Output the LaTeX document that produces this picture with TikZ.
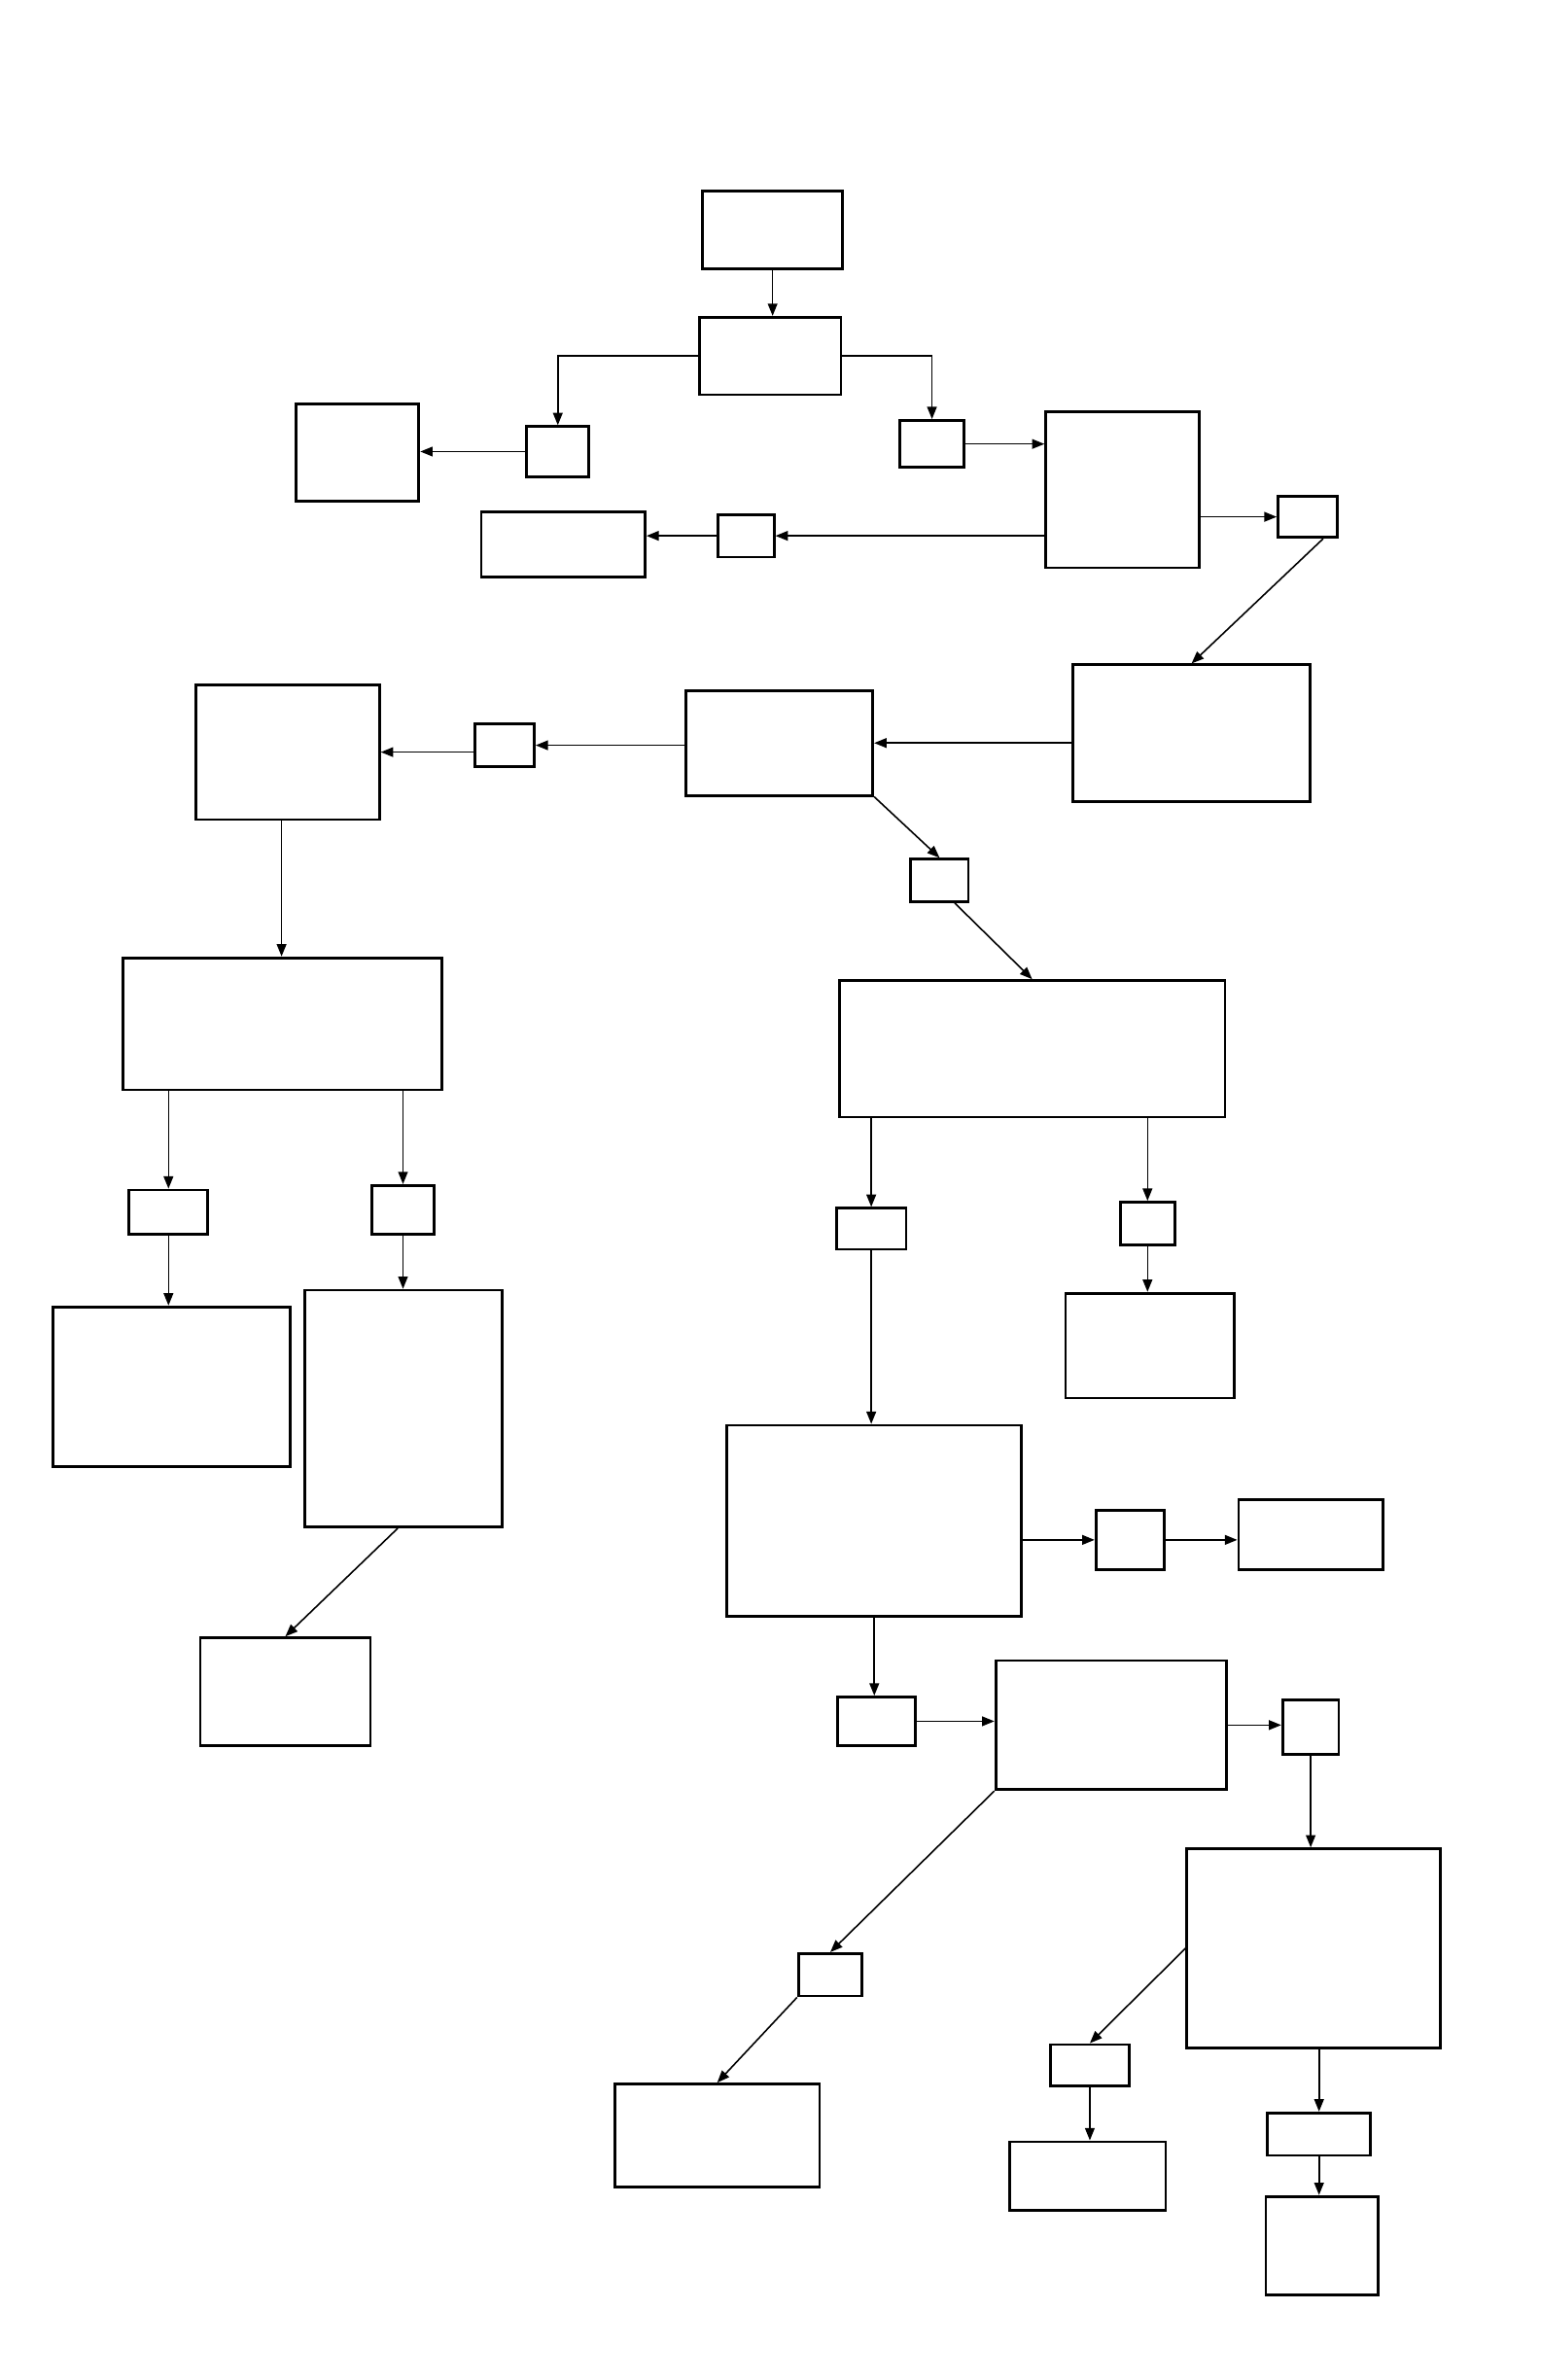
\documentclass[tikz,border=0pt]{standalone}
\usetikzlibrary{fit,arrows.meta,calc}
\begin{document}
\begin{tikzpicture}[x=0.015606cm,y=-0.015606cm,
  box/.style={draw,line width=0.8pt,inner sep=0pt,fill=white},
  conn/.style={line width=0.45pt,-{Triangle[length=3.6pt,width=2.8pt]}}]
\useasboundingbox (0,0) rectangle (1015,1568);
\newcommand\bx[5]{\node[box,fit={(#2,#3) (#4,#5)}] (#1) {};}
\bx{A}{463}{126}{555}{177}
\bx{B}{461}{209}{554}{260}
\bx{C}{347}{281}{388}{314}
\bx{D}{195}{266}{276}{330}
\bx{E}{593}{277}{635}{308}
\bx{F}{689}{271}{790}{374}
\bx{G}{842}{327}{881}{354}
\bx{H}{473}{339}{510}{367}
\bx{I}{317}{337}{425}{380}
\bx{J}{707}{438}{863}{528}
\bx{K}{452}{455}{575}{524}
\bx{L}{313}{477}{352}{505}
\bx{M}{129}{451}{250}{540}
\bx{N}{600}{566}{638}{594}
\bx{O}{553}{646}{807}{736}
\bx{P}{81}{631}{291}{718}
\bx{Q}{85}{784}{137}{813}
\bx{R}{245}{781}{286}{813}
\bx{S}{35}{861}{191}{966}
\bx{T}{201}{850}{331}{1006}
\bx{U}{551}{796}{597}{823}
\bx{V}{738}{792}{774}{820}
\bx{W}{702}{852}{813}{921}
\bx{X}{479}{939}{673}{1065}
\bx{Y}{722}{995}{767}{1034}
\bx{Z}{816}{988}{911}{1034}
\bx{AA}{132}{1079}{244}{1150}
\bx{AB}{552}{1118}{603}{1150}
\bx{AC}{656}{1094}{808}{1179}
\bx{AD}{845}{1120}{882}{1156}
\bx{AE}{782}{1218}{949}{1349}
\bx{AF}{526}{1287}{568}{1315}
\bx{AG}{405}{1373}{540}{1441}
\bx{AH}{692}{1347}{744}{1374}
\bx{AI}{665}{1411}{768}{1456}
\bx{AJ}{835}{1392}{903}{1420}
\bx{AK}{834}{1447}{908}{1512}
% connectors
\draw[conn] (A.south) -- (A.south |- B.north);
\draw[conn] (B.west) -| (C.north);
\draw[conn] (B.east) -| (E.north);
\draw[conn] (C.west) -- (C.west -| D.east);
\draw[conn] (E.east) -- (E.east -| F.west);
\draw[conn] (H.east -| F.west) -- (H.east);
\draw[conn] (H.west) -- (H.west -| I.east);
\draw[conn] (G.west -| F.east) -- (G.west);
\draw[conn] ($(G.south)!0.5!(G.south east)$) -- (J.north);
\draw[conn] (K.east -| J.west) -- (K.east);
\draw[conn] (L.east -| K.west) -- (L.east);
\draw[conn] (M.east -| L.west) -- (M.east);
\coordinate (Mout) at ($(M.south)+(-4,0)$);
\draw[conn] (Mout) -- (Mout |- P.north);
\draw[conn] (Q.north |- P.south) -- (Q.north);
\draw[conn] (Q.south) -- (Q.south |- S.north);
\draw[conn] (R.north |- P.south) -- (R.north);
\draw[conn] (R.south) -- (R.south |- T.north);
\draw[conn] ($(T.south)+(-4,0)$) -- (AA.north);
\draw[conn] (K.south east) -- (N.north);
\draw[conn] ($(N.south)!0.5!(N.south east)$) -- (O.north);
\draw[conn] (U.north |- O.south) -- (U.north);
\draw[conn] (V.north |- O.south) -- (V.north);
\draw[conn] (V.south) -- (V.south |- W.north);
\draw[conn] (U.south) -- (U.south |- X.north);
\draw[conn] (Y.west -| X.east) -- (Y.west);
\draw[conn] (Y.east) -- (Y.east -| Z.west);
\draw[conn] (X.south) -- (X.south |- AB.north);
\draw[conn] (AB.east) -- (AB.east -| AC.west);
\draw[conn] (AC.east) -- (AC.east -| AD.west);
\draw[conn] (AD.south) -- (AD.south |- AE.north);
\draw[conn] (AC.south west) -- (AF.north);
\draw[conn] (AF.south west) -- (AG.north);
\draw[conn] (AE.west) -- (AH.north);
\draw[conn] (AH.south) -- (AH.south |- AI.north);
\draw[conn] (AJ.north |- AE.south) -- (AJ.north);
\draw[conn] (AJ.south) -- (AJ.south |- AK.north);
\end{tikzpicture}
\end{document}
